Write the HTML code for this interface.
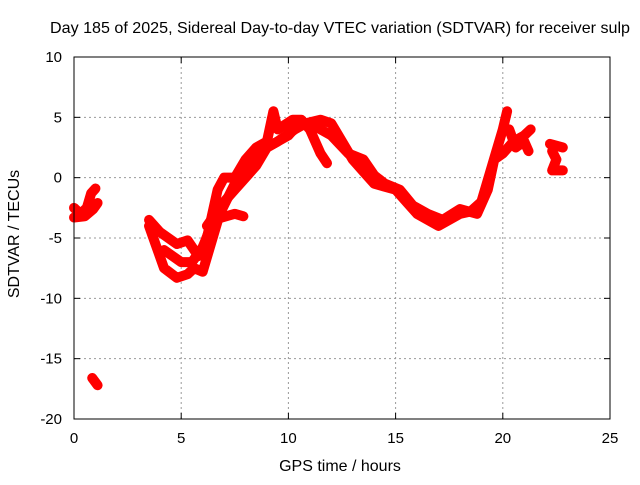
<!DOCTYPE html>
<html><head><meta charset="utf-8"><style>
body{margin:0;background:#fff}
svg{font-family:"Liberation Sans",sans-serif}
</style></head><body>
<svg width="640" height="480">
<rect width="640" height="480" fill="#fff"/>
<g id="grid"></g>
<g id="series"></g>
<rect x="74" y="57" width="536" height="362" fill="none" stroke="#000" stroke-width="1"/>
<g id="ticks"></g>
<text x="340" y="33" font-size="16" text-anchor="middle" textLength="580" lengthAdjust="spacingAndGlyphs">Day 185 of 2025, Sidereal Day-to-day VTEC variation (SDTVAR) for receiver sulp</text>
<text x="340" y="471" font-size="16" text-anchor="middle">GPS time / hours</text>
<text transform="translate(19,234) rotate(-90)" font-size="16" text-anchor="middle">SDTVAR / TECUs</text>
</svg>
<script>
const xTicks=[0,5,10,15,20,25];
const yTicks=[10,5,0,-5,-10,-15,-20];
const trackLeftA=[[0,-2.5],[0.3,-3],[0.6,-2.5],[0.8,-1.3],[1.0,-0.9]];
const trackLeftB=[[0,-3.3],[0.5,-3.2],[0.9,-2.6],[1.1,-2.1]];
const trackOutlier=[[0.85,-16.6],[1.1,-17.2]];
const trackLow=[[3.5,-4],[3.8,-5.5],[4.2,-7.5],[4.8,-8.3],[5.3,-8],[5.6,-7.5],[6,-7.8],[6.3,-6],[6.8,-3],[7.5,-0.5],[8,0.5],[8.5,2],[9.5,3],[10.3,4],[10.8,4.5],[11.5,4.8],[12,4.5],[12.5,3],[13,1.5],[13.5,0.5],[14,-0.5],[15,-1],[15.5,-2],[16,-3],[16.5,-3.5],[17,-4],[17.5,-3.5],[18,-3],[18.5,-2.8],[19,-2],[19.5,1],[20,4],[20.2,5.5]];
const trackHigh=[[3.5,-3.5],[4,-4.5],[4.8,-5.5],[5.3,-5.2],[5.8,-6.5],[6.2,-5],[6.7,-1],[7,0],[7.5,0],[8,1.5],[8.5,2.5],[9,3],[9.3,5.5],[9.5,4],[10.2,4.8],[10.6,4.8],[11,4],[11.5,2],[11.8,1.2]];
const trackMid=[[4.2,-6],[5,-7],[5.5,-7],[6,-5.8],[6.5,-3.5],[7.5,-3],[7.9,-3.2]];
const trackMid2=[[6.2,-4],[7,-2],[7.5,-1],[8,0],[8.5,1],[9,2.5],[10,3.5],[10.5,4.5],[11,4.5],[12,3.5],[12.8,2],[13.5,1.5],[14,0.2],[14.5,-0.5],[15.2,-1],[15.8,-2.3],[16.5,-3],[17.2,-3.5],[18,-2.6],[18.8,-3],[19.3,-1],[19.6,1.5],[20,2],[20.5,3],[21,3.5],[21.3,4]];
const trackRight=[[20.3,4],[20.6,2.5],[21,3],[21.2,2.2]];
const trackFarRight=[[22.2,2.8],[22.8,2.5]];
const trackFarRight2=[[22.3,2.2],[22.5,1.5],[22.3,0.6],[22.8,0.6]];
const tracks=[trackLeftA,trackLeftB,trackOutlier,trackLow,trackHigh,trackMid,trackMid2,trackRight,trackFarRight,trackFarRight2];
const X=h=>74+h*536/25, Y=v=>57+(10-v)*362/30;
const NS="http://www.w3.org/2000/svg";
const grid=document.getElementById('grid'),ticks=document.getElementById('ticks'),ser=document.getElementById('series');
function mk(tag,attrs,parent){const e=document.createElementNS(NS,tag);for(const k in attrs)e.setAttribute(k,attrs[k]);parent.appendChild(e);return e;}
xTicks.forEach(t=>{const x=X(t);
 if(t>0&&t<25){const g=mk('line',{x1:x,x2:x,y1:57,y2:419,stroke:'#999','stroke-dasharray':'2,3'},grid);
 
 }
 const l=mk('text',{x:x,y:443,'font-size':15,'text-anchor':'middle'},ticks);l.textContent=t;
 
 
 mk('line',{x1:x,x2:x,y1:419,y2:413,stroke:'#000'},ticks);mk('line',{x1:x,x2:x,y1:57,y2:63,stroke:'#000'},ticks);});
yTicks.forEach(t=>{const y=Y(t);
 if(t>-20&&t<10){const g=mk('line',{x1:74,x2:610,y1:y,y2:y,stroke:'#999','stroke-dasharray':'2,3'},grid);
 
 }
 const l=mk('text',{x:62,y:y+5,'font-size':15,'text-anchor':'end'},ticks);l.textContent=t;
 
 
 mk('line',{x1:74,x2:80,y1:y,y2:y,stroke:'#000'},ticks);mk('line',{x1:610,x2:604,y1:y,y2:y,stroke:'#000'},ticks);});
tracks.forEach(tr=>{const p=mk('polyline',{points:tr.map(d=>X(d[0])+','+Y(d[1])).join(' '),fill:'none',stroke:'#f00','stroke-width':10,'stroke-linejoin':'round','stroke-linecap':'round'},ser);
 
 });
</script>
</body></html>
